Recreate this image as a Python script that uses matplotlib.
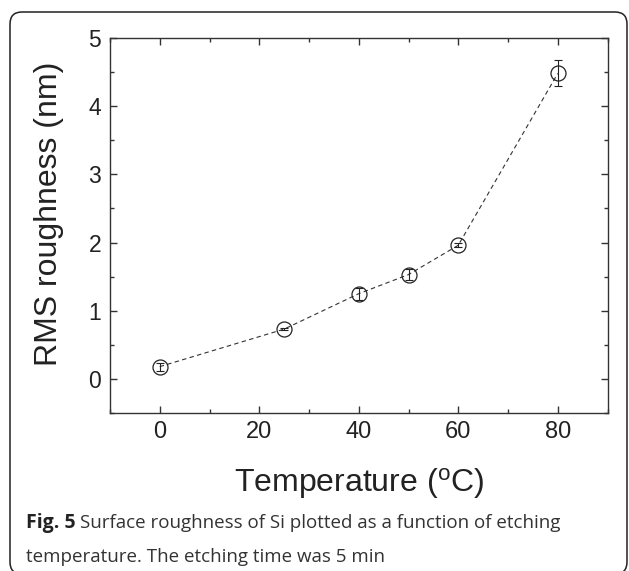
import matplotlib.pyplot as plt
from matplotlib.patches import FancyBboxPatch
from matplotlib.ticker import MultipleLocator

temps = [0, 25, 40, 50, 60, 80]
rms = [0.18, 0.73, 1.25, 1.53, 1.96, 4.48]
rms_err = [0.06, 0.02, 0.09, 0.08, 0.03, 0.19]

xticks = [0, 20, 40, 60, 80]
yticks = [0, 1, 2, 3, 4, 5]

plt.rcParams['font.family'] = ['Liberation Sans', 'DejaVu Sans']

W, H = 629, 571
fig = plt.figure(figsize=(W / 100, H / 100), dpi=100)

# rounded frame round the panel (inches)
frame = FancyBboxPatch((0.10, -0.03), 6.17, (H - 12) / 100 + 0.03,
                       boxstyle="round,pad=0,rounding_size=0.12",
                       transform=fig.dpi_scale_trans, fill=False,
                       edgecolor='#222222', linewidth=1.1)
fig.patches.append(frame)

ax = fig.add_axes([110 / W, 1 - 413 / H, 497.5 / W, 375 / H])
ax.plot(temps, rms, linestyle=(0, (4, 3)), color='#333333', linewidth=0.8, zorder=1)
ax.errorbar(temps, rms, yerr=rms_err, fmt='none', ecolor='#222222',
            elinewidth=0.8, capsize=2.8, capthick=0.8, zorder=2)
ax.plot(temps, rms, linestyle='none', marker='o', markersize=10.8,
        markerfacecolor='none', markeredgecolor='#222222',
        markeredgewidth=0.9, zorder=3)

ax.set_xlim(-10, 90)
ax.set_ylim(-0.5, 5)
ax.set_xticks(xticks)
ax.set_yticks(yticks)
ax.xaxis.set_minor_locator(MultipleLocator(10))
ax.yaxis.set_minor_locator(MultipleLocator(0.5))
ax.tick_params(which='both', direction='in', top=True, right=True,
               color='#333333', width=1.0, labelcolor='#222222')
ax.tick_params(which='major', length=5.2)
ax.tick_params(which='minor', length=3)
ax.tick_params(axis='x', labelsize=17, pad=5.4)
ax.tick_params(axis='y', labelsize=16.5, pad=6.3)
for s in ax.spines.values():
    s.set_linewidth(1.0)
    s.set_color('#333333')

ax.set_xlabel('Temperature ($\\mathregular{^o}$C)', fontsize=23, color='#222222')
ax.xaxis.label.set_va('baseline')
ax.xaxis.set_label_coords(0.5, (413 - 492) / 375)
ax.set_ylabel('RMS roughness (nm)', fontsize=23, color='#222222')
ax.yaxis.label.set_va('center')
ax.yaxis.set_label_coords((49.5 - 110) / 497.5, (413 - 214) / 375)

# caption below the chart
cap_font = ['Open Sans', 'DejaVu Sans']
fig.canvas.draw()
r = fig.canvas.get_renderer()
t1 = fig.text(26 / W, 1 - 528 / H, 'Fig. 5', fontsize=14, fontweight='bold',
              family=cap_font, color='#222222', va='baseline')
w = t1.get_window_extent(renderer=r).width
fig.text((26 + w + 4) / W, 1 - 528 / H,
         'Surface roughness of Si plotted as a function of etching',
         fontsize=13.5, family=cap_font, color='#333333', va='baseline')
fig.text(26 / W, 1 - 562.5 / H, 'temperature. The etching time was 5 min',
         fontsize=13.5, family=cap_font, color='#333333', va='baseline')

fig.savefig('out.png', dpi=100)
